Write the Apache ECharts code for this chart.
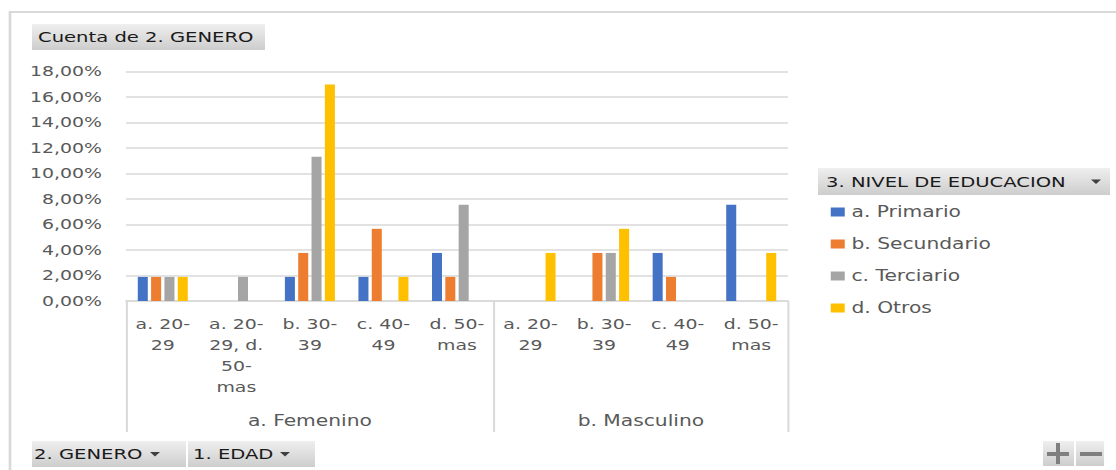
<!DOCTYPE html>
<html>
<head>
<meta charset="utf-8">
<script src="https://cdn.jsdelivr.net/npm/echarts@6/dist/echarts.min.js"></script>
<style>
  html, body { margin: 0; padding: 0; background: #fff; overflow: hidden; }
  /* la imagen original esta estirada en horizontal, se reproduce con scaleX */
  #main { width: 827px; height: 470px; transform: scaleX(1.35); transform-origin: 0 0; }
</style>
</head>
<body>
<div id="main"></div>
<script>
// categorias del eje (1. EDAD) dentro de cada 2. GENERO
var categorias = ['a. 20-29', 'a. 20-29, d. 50-mas', 'b. 30-39', 'c. 40-49', 'd. 50-mas',
                  'a. 20-29', 'b. 30-39', 'c. 40-49', 'd. 50-mas'];
var generos = ['a. Femenino', 'b. Masculino'];
var generoCuenta = [5, 4];

// porcentajes por nivel de educacion
var nombres = ['a. Primario', 'b. Secundario', 'c. Terciario', 'd. Otros'];
var primario   = [1.89, null, 1.89, 1.89, 3.77, null, null, 3.77, 7.55];
var secundario = [1.89, null, 3.77, 5.66, 1.89, null, 3.77, 1.89, null];
var terciario  = [1.89, 1.89, 11.32, null, 7.55, null, 3.77, null, null];
var otros      = [1.89, null, 16.98, 1.89, null, 3.77, 5.66, null, 3.77];
var colores = ['#4472C4', '#ED7D31', '#A5A5A5', '#FFC000'];

var yMax = 18, yPaso = 2;

//escala horizontal de la imagen
var sx = 1.35;
function px(x) { return x / sx; }

//limites y centros de cada genero en el eje
var limites = [0], centros = [];
for (var i = 0; i < generoCuenta.length; i++) {
	centros.push(limites[i] + generoCuenta[i] / 2);
	limites.push(limites[i] + generoCuenta[i]);
}

var gris = '#595959';
var fuente = 'DejaVu Sans';
var degradado = {
	type: 'linear', x: 0, y: 0, x2: 0, y2: 1,
	colorStops: [{ offset: 0, color: '#efefef' }, { offset: 1, color: '#cdcdcd' }]
};

//boton gris tipo tabla dinamica
function boton(x0, x1, y0, y1, texto, tx, flechaX) {
	var els = [{
		type: 'rect',
		shape: { x: px(x0), y: y0, width: px(x1 - x0), height: y1 - y0 },
		style: { fill: degradado }
	}, {
		type: 'text',
		x: px(tx), y: (y0 + y1) / 2,
		style: { text: texto, font: '14.5px "' + fuente + '"', fill: '#1a1a1a', verticalAlign: 'middle' }
	}];
	if (flechaX) {
		var cy = (y0 + y1) / 2;
		els.push({
			type: 'polygon',
			shape: { points: [[px(flechaX - 5), cy - 2], [px(flechaX + 5), cy - 2], [px(flechaX), cy + 2.5]] },
			style: { fill: '#404040' }
		});
	}
	return els;
}

var graficos = [{
	type: 'rect',
	shape: { x: px(10), y: 12, width: 900, height: 500 },
	style: { fill: 'none', stroke: '#d9d9d9', lineWidth: 2 }
}];
graficos = graficos.concat(boton(32, 265, 24, 50, 'Cuenta de 2. GENERO', 38, null));
graficos = graficos.concat(boton(818, 1110, 168, 195, '3. NIVEL DE EDUCACION', 826, 1096));
graficos = graficos.concat(boton(32, 186, 441, 467, '2. GENERO', 34, 155));
graficos = graficos.concat(boton(188, 315, 441, 467, '1. EDAD', 193, 285));
graficos = graficos.concat(boton(1043, 1074, 441, 466, '', 0, null));
graficos = graficos.concat(boton(1076, 1104, 441, 466, '', 0, null));
//signos + y -
graficos.push({ type: 'rect', shape: { x: px(1047), y: 452, width: px(22), height: 4 }, style: { fill: '#7f7f7f' } });
graficos.push({ type: 'rect', shape: { x: px(1056), y: 443, width: px(4), height: 21 }, style: { fill: '#7f7f7f' } });
graficos.push({ type: 'rect', shape: { x: px(1080), y: 452, width: px(22), height: 4 }, style: { fill: '#7f7f7f' } });

var datos = [primario, secundario, terciario, otros];
var series = [];
for (var k = 0; k < nombres.length; k++) {
	series.push({
		name: nombres[k],
		type: 'bar',
		data: datos[k],
		color: colores[k],
		barGap: '33%',
		barCategoryGap: '32%'
	});
}

var myChart = echarts.init(document.getElementById('main'), null, { renderer: 'svg' });
var option = {
	backgroundColor: '#fff',
	animation: false,
	textStyle: { fontFamily: fuente },
	graphic: graficos,
	grid: { left: px(126), right: 827 - px(788), top: 71.5, bottom: 169 },
	legend: {
		orient: 'vertical',
		left: px(824),
		top: 199.5,
		icon: 'rect',
		itemWidth: px(14),
		itemHeight: 9,
		itemGap: 17,
		data: nombres,
		textStyle: { fontSize: 15, color: gris, fontFamily: fuente }
	},
	xAxis: [{
		type: 'category',
		data: categorias,
		axisLine: { lineStyle: { color: '#d9d9d9', width: 1.5 } },
		axisTick: { show: false },
		axisLabel: {
			interval: 0,
			margin: 13,
			fontSize: 14,
			lineHeight: 21,
			color: gris,
			formatter: function (v) {
				return v.replace(/-/g, '-\n').replace(', d. ', ', d.\n');
			}
		}
	}, {
		type: 'value',
		min: 0,
		max: limites[limites.length - 1],
		position: 'bottom',
		axisLine: { show: false },
		splitLine: { show: false },
		axisTick: {
			show: true,
			customValues: limites,
			length: 131,
			lineStyle: { color: '#d9d9d9', width: 1.5 }
		},
		axisLabel: {
			customValues: centros,
			margin: 112,
			fontSize: 15,
			color: gris,
			formatter: function (v) {
				var i = centros.indexOf(v);
				return i >= 0 ? generos[i] : '';
			}
		}
	}],
	yAxis: {
		type: 'value',
		min: 0,
		max: yMax,
		interval: yPaso,
		axisLine: { show: false },
		axisTick: { show: false },
		splitLine: { lineStyle: { color: '#d9d9d9', width: 1.5 } },
		axisLabel: {
			margin: px(24),
			fontSize: 14,
			color: gris,
			formatter: function (v) {
				return v.toFixed(2).replace('.', ',') + '%';
			}
		}
	},
	series: series
};
myChart.setOption(option);
</script>
</body>
</html>
